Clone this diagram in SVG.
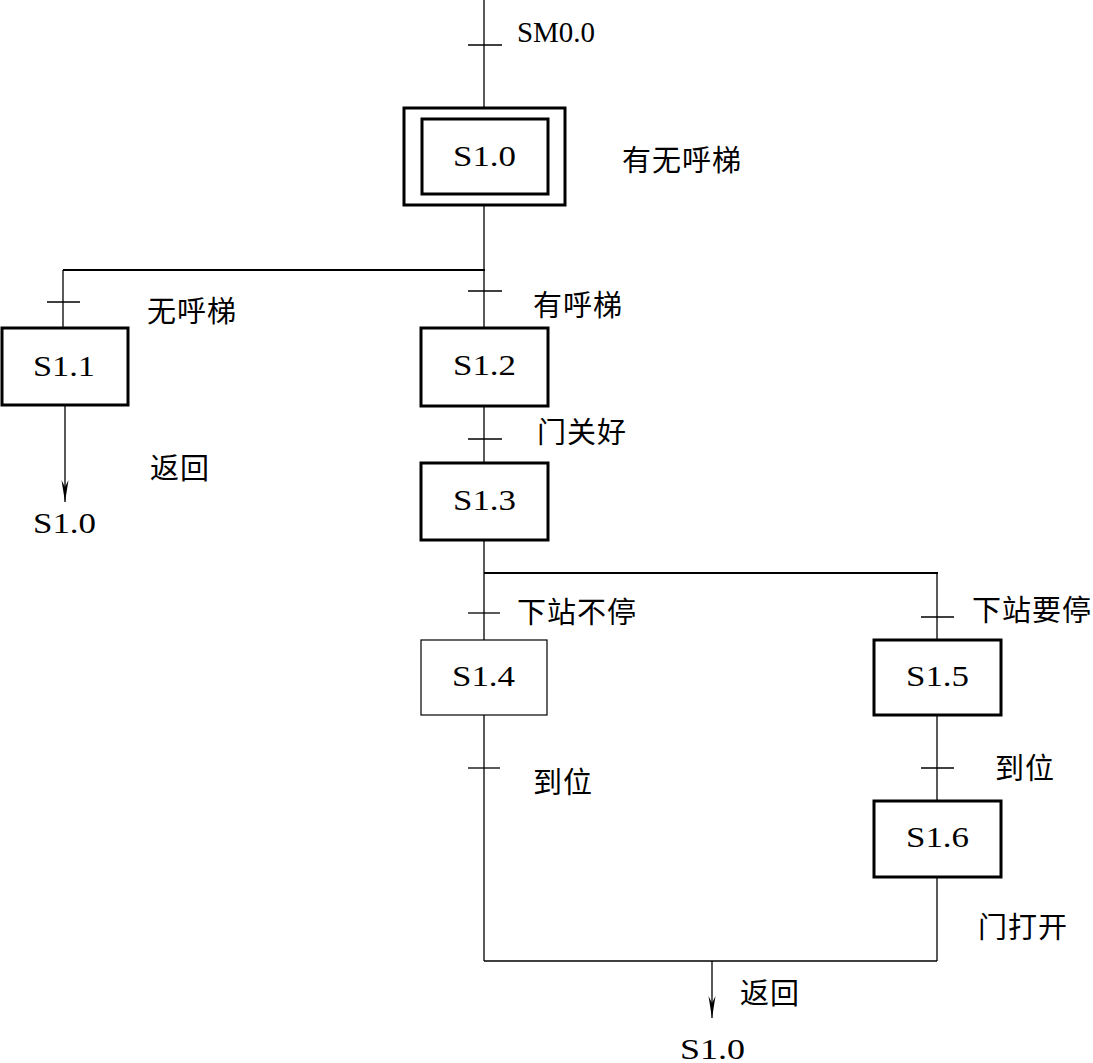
<svg xmlns="http://www.w3.org/2000/svg" width="1093" height="1063" viewBox="0 0 1093 1063">
<style>
.bg{fill:#fff}
.box{fill:#fff;stroke:#000;stroke-width:3}
.thin{fill:#fff;stroke:#000;stroke-width:1.2}
.ln{stroke:#000;stroke-width:1.3;fill:none}
.br{stroke:#000;stroke-width:2;fill:none}
.tk{stroke:#000;stroke-width:1.3}
.lat{font-family:"Liberation Serif","DejaVu Serif",serif;font-size:30px;fill:#000}
.cjk{font-family:"Noto Sans CJK SC","Noto Sans",sans-serif;font-size:29px;fill:#000;letter-spacing:1px}
</style>
<defs>
<marker id="arr" markerUnits="userSpaceOnUse" markerWidth="24" markerHeight="8" refX="22" refY="4" orient="auto" viewBox="0 0 24 8">
<path d="M22,4 L0,0.5 L7,4 L0,7.5 Z" fill="#000"/>
</marker>
</defs>
<rect class="bg" width="1093" height="1063"/>
<g id="connectors">
<line class="ln" x1="484" y1="0" x2="484" y2="107"/>
<line class="ln" x1="484" y1="206" x2="484" y2="328"/>
<line class="br" x1="63" y1="270" x2="485" y2="270"/>
<line class="ln" x1="63" y1="270" x2="63" y2="328"/>
<line class="ln" x1="484" y1="406" x2="484" y2="463"/>
<line class="ln" x1="484" y1="540" x2="484" y2="640"/>
<line class="br" x1="484" y1="573" x2="938" y2="573"/>
<line class="ln" x1="937" y1="573" x2="937" y2="640"/>
<line class="ln" x1="484" y1="715" x2="484" y2="961"/>
<line class="ln" x1="937" y1="715" x2="937" y2="801"/>
<line class="ln" x1="937" y1="877" x2="937" y2="961"/>
<line class="ln" x1="484" y1="961" x2="937" y2="961"/>
<line class="ln" x1="65" y1="405" x2="65" y2="502" marker-end="url(#arr)"/>
<line class="ln" x1="712" y1="961" x2="712" y2="1018" marker-end="url(#arr)"/>
<line class="tk" x1="468" y1="45" x2="502" y2="45"/>
<line class="tk" x1="47" y1="302" x2="80" y2="302"/>
<line class="tk" x1="468" y1="291" x2="502" y2="291"/>
<line class="tk" x1="468" y1="439" x2="502" y2="439"/>
<line class="tk" x1="468" y1="613" x2="500" y2="613"/>
<line class="tk" x1="921" y1="617" x2="954" y2="617"/>
<line class="tk" x1="468" y1="768" x2="500" y2="768"/>
<line class="tk" x1="921" y1="768" x2="954" y2="768"/>
</g>
<g id="labels">
<text class="lat" x="517" y="42" textLength="78" lengthAdjust="spacingAndGlyphs">SM0.0</text>
<text class="cjk" x="622" y="171">有无呼梯</text>
<text class="cjk" x="147" y="322">无呼梯</text>
<text class="cjk" x="533" y="316">有呼梯</text>
<text class="cjk" x="537" y="443">门关好</text>
<text class="cjk" x="150" y="479">返回</text>
<text class="lat" x="33" y="533" textLength="63" lengthAdjust="spacingAndGlyphs">S1.0</text>
<text class="cjk" x="517" y="623">下站不停</text>
<text class="cjk" x="972" y="621">下站要停</text>
<text class="cjk" x="533" y="793">到位</text>
<text class="cjk" x="995" y="779">到位</text>
<text class="cjk" x="978" y="938">门打开</text>
<text class="cjk" x="740" y="1004">返回</text>
<text class="lat" x="680" y="1059" textLength="65" lengthAdjust="spacingAndGlyphs">S1.0</text>
</g>
<g id="S1.0">
<rect class="box" x="404" y="108" width="161" height="97"/>
<rect class="box" x="422" y="119" width="126" height="75"/>
<text class="lat" x="453" y="166" textLength="63" lengthAdjust="spacingAndGlyphs">S1.0</text>
</g>
<g id="S1.1">
<rect class="box" x="2" y="328" width="126" height="77"/>
<text class="lat" x="33" y="376" textLength="62" lengthAdjust="spacingAndGlyphs">S1.1</text>
</g>
<g id="S1.2">
<rect class="box" x="421" y="328" width="127" height="78"/>
<text class="lat" x="453" y="375" textLength="63" lengthAdjust="spacingAndGlyphs">S1.2</text>
</g>
<g id="S1.3">
<rect class="box" x="421" y="463" width="127" height="77"/>
<text class="lat" x="453" y="510" textLength="63" lengthAdjust="spacingAndGlyphs">S1.3</text>
</g>
<g id="S1.4">
<rect class="thin" x="421" y="640" width="126" height="75"/>
<text class="lat" x="452" y="686" textLength="63" lengthAdjust="spacingAndGlyphs">S1.4</text>
</g>
<g id="S1.5">
<rect class="box" x="874" y="640" width="127" height="75"/>
<text class="lat" x="906" y="686" textLength="63" lengthAdjust="spacingAndGlyphs">S1.5</text>
</g>
<g id="S1.6">
<rect class="box" x="874" y="801" width="127" height="76"/>
<text class="lat" x="906" y="847" textLength="63" lengthAdjust="spacingAndGlyphs">S1.6</text>
</g>
</svg>
